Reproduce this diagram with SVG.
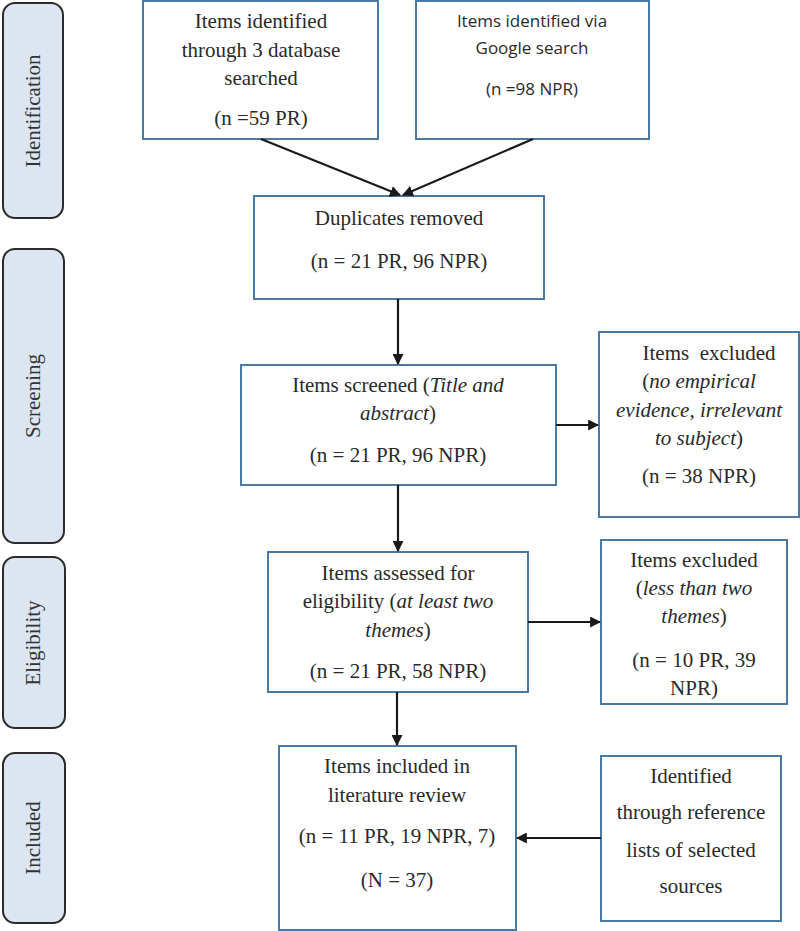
<svg xmlns="http://www.w3.org/2000/svg" width="800" height="931" viewBox="0 0 800 931">
<style>
.bg{fill:#ffffff}
.side rect{fill:#dce6f2;stroke:#2b2b2b;stroke-width:2}
.side text{font-family:"Liberation Serif","Times New Roman",serif;font-size:21px;fill:#333;text-anchor:middle}
.node rect{fill:#ffffff;stroke:#4a7aa3;stroke-width:2}
.node text{font-family:"Liberation Serif","Times New Roman",serif;font-size:21px;fill:#2a2a2a;text-anchor:middle}
.node text.sans{font-family:"Open Sans","Liberation Sans",sans-serif;font-size:17px}
.edges line{stroke:#1a1a1a;stroke-width:2.2}
</style>
<defs>
<marker id="ah" viewBox="0 0 10 10" refX="9" refY="5" markerWidth="5" markerHeight="5" orient="auto" markerUnits="strokeWidth">
<path d="M0,0 L10,5 L0,10 z" fill="#1a1a1a"/>
</marker>
</defs>
<rect class="bg" x="0" y="0" width="800" height="931"/>

<g id="side-identification" class="side">
<rect x="3" y="3" width="60" height="215" rx="12"/>
<text transform="translate(40,111) rotate(-90)">Identification</text>
</g>
<g id="side-screening" class="side">
<rect x="3" y="249" width="61" height="294" rx="12"/>
<text transform="translate(40,396) rotate(-90)">Screening</text>
</g>
<g id="side-eligibility" class="side">
<rect x="3" y="557" width="62" height="171" rx="12"/>
<text transform="translate(40,643) rotate(-90)">Eligibility</text>
</g>
<g id="side-included" class="side">
<rect x="3" y="753" width="62" height="170" rx="12"/>
<text transform="translate(40,838) rotate(-90)">Included</text>
</g>

<g id="n1" class="node">
<rect x="143" y="1" width="235" height="138"/>
<text x="261" y="28">Items identified</text>
<text x="261" y="57">through 3 database</text>
<text x="261" y="85">searched</text>
<text x="261" y="125">(n =59 PR)</text>
</g>
<g id="n2" class="node">
<rect x="416" y="1" width="233" height="138"/>
<text class="sans" x="532" y="27">Items identified via</text>
<text class="sans" x="532" y="54">Google search</text>
<text class="sans" x="532" y="95">(n =98 NPR)</text>
</g>
<g id="n3" class="node">
<rect x="254" y="196" width="290" height="103"/>
<text x="399" y="225">Duplicates removed</text>
<text x="399" y="268">(n = 21 PR, 96 NPR)</text>
</g>
<g id="n4" class="node">
<rect x="241" y="365" width="315" height="120"/>
<text x="398" y="392">Items screened (<tspan font-style="italic">Title and</tspan></text>
<text x="398" y="420"><tspan font-style="italic">abstract</tspan>)</text>
<text x="398" y="462">(n = 21 PR, 96 NPR)</text>
</g>
<g id="n5" class="node">
<rect x="599" y="332" width="200" height="185"/>
<text x="709" y="360" xml:space="preserve">Items  excluded</text>
<text x="699" y="388">(<tspan font-style="italic">no empirical</tspan></text>
<text x="699" y="417" font-style="italic">evidence, irrelevant</text>
<text x="699" y="445"><tspan font-style="italic">to subject</tspan>)</text>
<text x="699" y="483">(n = 38 NPR)</text>
</g>
<g id="n6" class="node">
<rect x="268" y="552" width="260" height="140"/>
<text x="398" y="580">Items assessed for</text>
<text x="398" y="608">eligibility (<tspan font-style="italic">at least two</tspan></text>
<text x="398" y="637"><tspan font-style="italic">themes</tspan>)</text>
<text x="398" y="678">(n = 21 PR, 58 NPR)</text>
</g>
<g id="n7" class="node">
<rect x="601" y="540" width="186" height="164"/>
<text x="694" y="567">Items excluded</text>
<text x="694" y="595">(<tspan font-style="italic">less than two</tspan></text>
<text x="694" y="623"><tspan font-style="italic">themes</tspan>)</text>
<text x="694" y="667">(n = 10 PR, 39</text>
<text x="694" y="695">NPR)</text>
</g>
<g id="n8" class="node">
<rect x="279" y="746" width="237" height="184"/>
<text x="397" y="773">Items included in</text>
<text x="397" y="802">literature review</text>
<text x="397" y="843">(n = 11 PR, 19 NPR, 7)</text>
<text x="397" y="887">(N = 37)</text>
</g>
<g id="n9" class="node">
<rect x="601" y="756" width="180" height="165"/>
<text x="691" y="783">Identified</text>
<text x="691" y="819">through reference</text>
<text x="691" y="857">lists of selected</text>
<text x="691" y="893">sources</text>
</g>

<g id="edges" class="edges">
<line x1="261" y1="139" x2="400" y2="195" marker-end="url(#ah)"/>
<line x1="533" y1="139" x2="403" y2="195" marker-end="url(#ah)"/>
<line x1="398" y1="299" x2="398" y2="364" marker-end="url(#ah)"/>
<line x1="398" y1="485" x2="398" y2="551" marker-end="url(#ah)"/>
<line x1="397" y1="692" x2="397" y2="745" marker-end="url(#ah)"/>
<line x1="556" y1="425" x2="598" y2="425" marker-end="url(#ah)"/>
<line x1="528" y1="622" x2="600" y2="622" marker-end="url(#ah)"/>
<line x1="601" y1="838" x2="517" y2="838" marker-end="url(#ah)"/>
</g>
</svg>
